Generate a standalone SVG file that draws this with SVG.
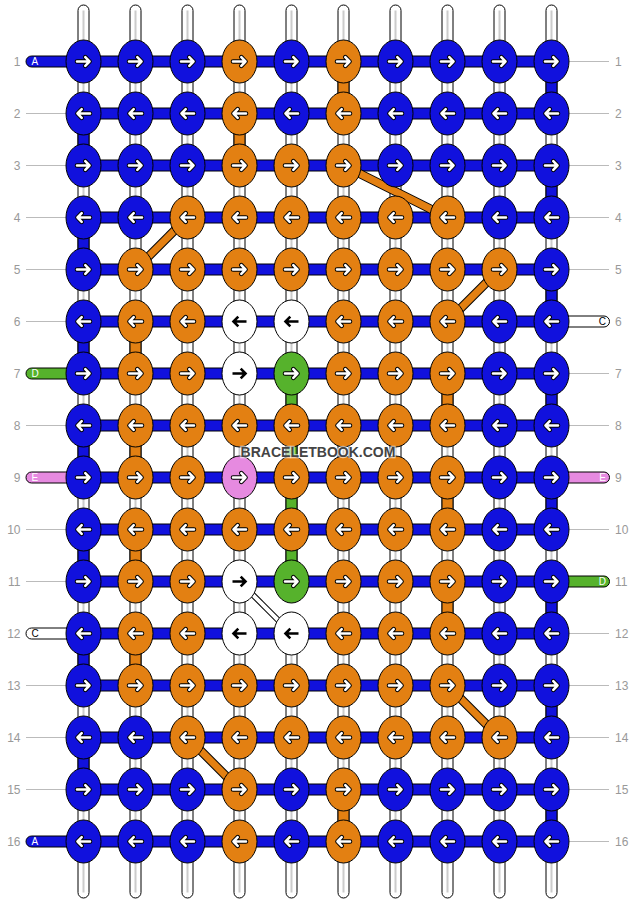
<svg xmlns="http://www.w3.org/2000/svg" xmlns:xlink="http://www.w3.org/1999/xlink" width="636" height="904" viewBox="0 0 636 904">
<style>
.b{fill:#1111dd}.o{fill:#e38012}.w{fill:#fff}.g{fill:#56b22c}.p{fill:#e68ae0}
ellipse{stroke:#000;stroke-width:1}
.gl{stroke:#bbb;stroke-width:1}
.num{font-family:"Liberation Sans",Arial,sans-serif;font-size:12px;fill:#999}
.lab{font-family:"Liberation Sans",Arial,sans-serif;font-size:10px}
.ao{fill:none;stroke:#000;stroke-width:4.6;stroke-linecap:round;stroke-linejoin:round}
.ai{fill:none;stroke:#fff;stroke-width:2.6;stroke-linecap:round;stroke-linejoin:round}
.ab{fill:none;stroke:#000;stroke-width:2.6;stroke-linejoin:miter}
.wm{font-family:"Liberation Sans",Arial,sans-serif;font-size:14px;font-weight:bold;fill:#444;stroke:#fff;stroke-opacity:0.6;stroke-width:2.5;paint-order:stroke}
</style>
<defs>
<g id="R"><path class="ao" d="M-6.5,0H6M1.8,-4.3L6,0L1.8,4.3"/><path class="ai" d="M-6.5,0H6M1.8,-4.3L6,0L1.8,4.3"/></g>
<g id="L"><path class="ao" d="M6.5,0H-6M-1.8,-4.3L-6,0L-1.8,4.3"/><path class="ai" d="M6.5,0H-6M-1.8,-4.3L-6,0L-1.8,4.3"/></g>
<path id="RB" class="ab" d="M-7,0H6M1.2,-4.8L6,0L1.2,4.8"/>
<path id="LB" class="ab" d="M7,0H-6M-1.2,-4.8L-6,0L-1.2,4.8"/>
<rect id="seg" x="-5.5" y="17" width="11" height="18" stroke="#000" stroke-width="1"/>
<g id="vt"><rect x="-5.5" y="-56.5" width="11" height="893" rx="5.5" fill="#fff" stroke="#000"/><line x1="0" y1="-51" x2="0" y2="831" stroke="#ccc" stroke-width="2"/></g>
<rect id="hb" class="b" x="0" y="-5.5" width="468" height="11" stroke="#000"/>
</defs>
<g transform="translate(83.5,61.5)">
<g id="guides">
<line class="gl" x1="-57.5" y1="52" x2="-17.5" y2="52"/><line class="gl" x1="-57.5" y1="104" x2="-17.5" y2="104"/><line class="gl" x1="-57.5" y1="156" x2="-17.5" y2="156"/><line class="gl" x1="-57.5" y1="208" x2="-17.5" y2="208"/><line class="gl" x1="-57.5" y1="260" x2="-17.5" y2="260"/><line class="gl" x1="-57.5" y1="364" x2="-17.5" y2="364"/><line class="gl" x1="-57.5" y1="468" x2="-17.5" y2="468"/><line class="gl" x1="-57.5" y1="520" x2="-17.5" y2="520"/><line class="gl" x1="-57.5" y1="624" x2="-17.5" y2="624"/><line class="gl" x1="-57.5" y1="676" x2="-17.5" y2="676"/><line class="gl" x1="-57.5" y1="728" x2="-17.5" y2="728"/>
<line class="gl" x1="485.5" y1="0" x2="525.5" y2="0"/><line class="gl" x1="485.5" y1="52" x2="525.5" y2="52"/><line class="gl" x1="485.5" y1="104" x2="525.5" y2="104"/><line class="gl" x1="485.5" y1="156" x2="525.5" y2="156"/><line class="gl" x1="485.5" y1="208" x2="525.5" y2="208"/><line class="gl" x1="485.5" y1="312" x2="525.5" y2="312"/><line class="gl" x1="485.5" y1="364" x2="525.5" y2="364"/><line class="gl" x1="485.5" y1="468" x2="525.5" y2="468"/><line class="gl" x1="485.5" y1="572" x2="525.5" y2="572"/><line class="gl" x1="485.5" y1="624" x2="525.5" y2="624"/><line class="gl" x1="485.5" y1="676" x2="525.5" y2="676"/><line class="gl" x1="485.5" y1="728" x2="525.5" y2="728"/><line class="gl" x1="485.5" y1="780" x2="525.5" y2="780"/>
</g>
<g id="connectors">
<use href="#vt" x="0"/><use href="#vt" x="52"/><use href="#vt" x="104"/><use href="#vt" x="156"/><use href="#vt" x="208"/><use href="#vt" x="260"/><use href="#vt" x="312"/><use href="#vt" x="364"/><use href="#vt" x="416"/><use href="#vt" x="468"/>
<use href="#seg" class="o" x="260" y="0"/><use href="#seg" class="b" x="468" y="0"/>
<use href="#seg" class="b" x="0" y="52"/><use href="#seg" class="o" x="156" y="52"/>
<use href="#seg" class="b" x="468" y="104"/>
<use href="#seg" class="b" x="0" y="156"/>
<use href="#seg" class="b" x="468" y="208"/>
<use href="#seg" class="b" x="0" y="260"/><use href="#seg" class="o" x="52" y="260"/>
<use href="#seg" class="g" x="208" y="312"/><use href="#seg" class="o" x="364" y="312"/><use href="#seg" class="b" x="468" y="312"/>
<use href="#seg" class="b" x="0" y="364"/><use href="#seg" class="o" x="52" y="364"/><use href="#seg" class="g" x="208" y="364"/>
<use href="#seg" class="g" x="208" y="416"/><use href="#seg" class="o" x="364" y="416"/><use href="#seg" class="b" x="468" y="416"/>
<use href="#seg" class="b" x="0" y="468"/><use href="#seg" class="o" x="52" y="468"/><use href="#seg" class="g" x="208" y="468"/>
<use href="#seg" class="o" x="364" y="520"/><use href="#seg" class="b" x="468" y="520"/><rect x="201.5" y="537" width="13" height="18" fill="#fff"/>
<use href="#seg" class="b" x="0" y="572"/><use href="#seg" class="o" x="52" y="572"/>
<use href="#seg" class="b" x="468" y="624"/>
<use href="#seg" class="b" x="0" y="676"/>
<use href="#seg" class="o" x="260" y="728"/><use href="#seg" class="b" x="468" y="728"/>
<rect class="b" x="-57.5" y="-5.5" width="70" height="11" rx="5.5" stroke="#000"/>
<rect class="b" x="-57.5" y="774.5" width="70" height="11" rx="5.5" stroke="#000"/>
<rect class="g" x="-57.5" y="306.5" width="70" height="11" rx="5.5" stroke="#000"/>
<rect class="p" x="-57.5" y="410.5" width="70" height="11" rx="5.5" stroke="#000"/>
<rect class="w" x="-57.5" y="566.5" width="70" height="11" rx="5.5" stroke="#000"/>
<rect class="w" x="456" y="254.5" width="70" height="11" rx="5.5" stroke="#000"/>
<rect class="p" x="456" y="410.5" width="70" height="11" rx="5.5" stroke="#000"/>
<rect class="g" x="456" y="514.5" width="70" height="11" rx="5.5" stroke="#000"/>
<use href="#hb" y="0"/><use href="#hb" y="52"/><use href="#hb" y="104"/><use href="#hb" y="156"/><use href="#hb" y="208"/><use href="#hb" y="260"/><use href="#hb" y="312"/><use href="#hb" y="364"/><use href="#hb" y="416"/><use href="#hb" y="468"/><use href="#hb" y="520"/><use href="#hb" y="572"/><use href="#hb" y="624"/><use href="#hb" y="676"/><use href="#hb" y="728"/><use href="#hb" y="780"/>
<g stroke-linecap="butt">
<line x1="260" y1="104" x2="364" y2="156" stroke="#000" stroke-width="9"/><line x1="260" y1="104" x2="364" y2="156" stroke="#e38012" stroke-width="7"/>
<line x1="104" y1="156" x2="52" y2="208" stroke="#000" stroke-width="9"/><line x1="104" y1="156" x2="52" y2="208" stroke="#e38012" stroke-width="7"/>
<line x1="416" y1="208" x2="364" y2="260" stroke="#000" stroke-width="9"/><line x1="416" y1="208" x2="364" y2="260" stroke="#e38012" stroke-width="7"/>
<line x1="364" y1="624" x2="416" y2="676" stroke="#000" stroke-width="9"/><line x1="364" y1="624" x2="416" y2="676" stroke="#e38012" stroke-width="7"/>
<line x1="104" y1="676" x2="156" y2="728" stroke="#000" stroke-width="9"/><line x1="104" y1="676" x2="156" y2="728" stroke="#e38012" stroke-width="7"/>
<line x1="156" y1="520" x2="208" y2="572" stroke="#000" stroke-width="6"/><line x1="156" y1="520" x2="208" y2="572" stroke="#fff" stroke-width="4"/>
</g>
</g>
<g id="knots">
<g id="k1-1" transform="translate(0,0)"><ellipse class="b" rx="17.5" ry="21.5"/><use href="#R"/></g>
<g id="k1-2" transform="translate(52,0)"><ellipse class="b" rx="17.5" ry="21.5"/><use href="#R"/></g>
<g id="k1-3" transform="translate(104,0)"><ellipse class="b" rx="17.5" ry="21.5"/><use href="#R"/></g>
<g id="k1-4" transform="translate(156,0)"><ellipse class="o" rx="17.5" ry="21.5"/><use href="#R"/></g>
<g id="k1-5" transform="translate(208,0)"><ellipse class="b" rx="17.5" ry="21.5"/><use href="#R"/></g>
<g id="k1-6" transform="translate(260,0)"><ellipse class="o" rx="17.5" ry="21.5"/><use href="#R"/></g>
<g id="k1-7" transform="translate(312,0)"><ellipse class="b" rx="17.5" ry="21.5"/><use href="#R"/></g>
<g id="k1-8" transform="translate(364,0)"><ellipse class="b" rx="17.5" ry="21.5"/><use href="#R"/></g>
<g id="k1-9" transform="translate(416,0)"><ellipse class="b" rx="17.5" ry="21.5"/><use href="#R"/></g>
<g id="k1-10" transform="translate(468,0)"><ellipse class="b" rx="17.5" ry="21.5"/><use href="#R"/></g>
<g id="k2-1" transform="translate(0,52)"><ellipse class="b" rx="17.5" ry="21.5"/><use href="#L"/></g>
<g id="k2-2" transform="translate(52,52)"><ellipse class="b" rx="17.5" ry="21.5"/><use href="#L"/></g>
<g id="k2-3" transform="translate(104,52)"><ellipse class="b" rx="17.5" ry="21.5"/><use href="#L"/></g>
<g id="k2-4" transform="translate(156,52)"><ellipse class="o" rx="17.5" ry="21.5"/><use href="#L"/></g>
<g id="k2-5" transform="translate(208,52)"><ellipse class="b" rx="17.5" ry="21.5"/><use href="#L"/></g>
<g id="k2-6" transform="translate(260,52)"><ellipse class="o" rx="17.5" ry="21.5"/><use href="#L"/></g>
<g id="k2-7" transform="translate(312,52)"><ellipse class="b" rx="17.5" ry="21.5"/><use href="#L"/></g>
<g id="k2-8" transform="translate(364,52)"><ellipse class="b" rx="17.5" ry="21.5"/><use href="#L"/></g>
<g id="k2-9" transform="translate(416,52)"><ellipse class="b" rx="17.5" ry="21.5"/><use href="#L"/></g>
<g id="k2-10" transform="translate(468,52)"><ellipse class="b" rx="17.5" ry="21.5"/><use href="#L"/></g>
<g id="k3-1" transform="translate(0,104)"><ellipse class="b" rx="17.5" ry="21.5"/><use href="#R"/></g>
<g id="k3-2" transform="translate(52,104)"><ellipse class="b" rx="17.5" ry="21.5"/><use href="#R"/></g>
<g id="k3-3" transform="translate(104,104)"><ellipse class="b" rx="17.5" ry="21.5"/><use href="#R"/></g>
<g id="k3-4" transform="translate(156,104)"><ellipse class="o" rx="17.5" ry="21.5"/><use href="#R"/></g>
<g id="k3-5" transform="translate(208,104)"><ellipse class="o" rx="17.5" ry="21.5"/><use href="#R"/></g>
<g id="k3-6" transform="translate(260,104)"><ellipse class="o" rx="17.5" ry="21.5"/><use href="#R"/></g>
<g id="k3-7" transform="translate(312,104)"><ellipse class="b" rx="17.5" ry="21.5"/><use href="#R"/></g>
<g id="k3-8" transform="translate(364,104)"><ellipse class="b" rx="17.5" ry="21.5"/><use href="#R"/></g>
<g id="k3-9" transform="translate(416,104)"><ellipse class="b" rx="17.5" ry="21.5"/><use href="#R"/></g>
<g id="k3-10" transform="translate(468,104)"><ellipse class="b" rx="17.5" ry="21.5"/><use href="#R"/></g>
<g id="k4-1" transform="translate(0,156)"><ellipse class="b" rx="17.5" ry="21.5"/><use href="#L"/></g>
<g id="k4-2" transform="translate(52,156)"><ellipse class="b" rx="17.5" ry="21.5"/><use href="#L"/></g>
<g id="k4-3" transform="translate(104,156)"><ellipse class="o" rx="17.5" ry="21.5"/><use href="#L"/></g>
<g id="k4-4" transform="translate(156,156)"><ellipse class="o" rx="17.5" ry="21.5"/><use href="#L"/></g>
<g id="k4-5" transform="translate(208,156)"><ellipse class="o" rx="17.5" ry="21.5"/><use href="#L"/></g>
<g id="k4-6" transform="translate(260,156)"><ellipse class="o" rx="17.5" ry="21.5"/><use href="#L"/></g>
<g id="k4-7" transform="translate(312,156)"><ellipse class="o" rx="17.5" ry="21.5"/><use href="#L"/></g>
<g id="k4-8" transform="translate(364,156)"><ellipse class="o" rx="17.5" ry="21.5"/><use href="#L"/></g>
<g id="k4-9" transform="translate(416,156)"><ellipse class="b" rx="17.5" ry="21.5"/><use href="#L"/></g>
<g id="k4-10" transform="translate(468,156)"><ellipse class="b" rx="17.5" ry="21.5"/><use href="#L"/></g>
<g id="k5-1" transform="translate(0,208)"><ellipse class="b" rx="17.5" ry="21.5"/><use href="#R"/></g>
<g id="k5-2" transform="translate(52,208)"><ellipse class="o" rx="17.5" ry="21.5"/><use href="#R"/></g>
<g id="k5-3" transform="translate(104,208)"><ellipse class="o" rx="17.5" ry="21.5"/><use href="#R"/></g>
<g id="k5-4" transform="translate(156,208)"><ellipse class="o" rx="17.5" ry="21.5"/><use href="#R"/></g>
<g id="k5-5" transform="translate(208,208)"><ellipse class="o" rx="17.5" ry="21.5"/><use href="#R"/></g>
<g id="k5-6" transform="translate(260,208)"><ellipse class="o" rx="17.5" ry="21.5"/><use href="#R"/></g>
<g id="k5-7" transform="translate(312,208)"><ellipse class="o" rx="17.5" ry="21.5"/><use href="#R"/></g>
<g id="k5-8" transform="translate(364,208)"><ellipse class="o" rx="17.5" ry="21.5"/><use href="#R"/></g>
<g id="k5-9" transform="translate(416,208)"><ellipse class="o" rx="17.5" ry="21.5"/><use href="#R"/></g>
<g id="k5-10" transform="translate(468,208)"><ellipse class="b" rx="17.5" ry="21.5"/><use href="#R"/></g>
<g id="k6-1" transform="translate(0,260)"><ellipse class="b" rx="17.5" ry="21.5"/><use href="#L"/></g>
<g id="k6-2" transform="translate(52,260)"><ellipse class="o" rx="17.5" ry="21.5"/><use href="#L"/></g>
<g id="k6-3" transform="translate(104,260)"><ellipse class="o" rx="17.5" ry="21.5"/><use href="#L"/></g>
<g id="k6-4" transform="translate(156,260)"><ellipse class="w" rx="17.5" ry="21.5"/><use href="#LB"/></g>
<g id="k6-5" transform="translate(208,260)"><ellipse class="w" rx="17.5" ry="21.5"/><use href="#LB"/></g>
<g id="k6-6" transform="translate(260,260)"><ellipse class="o" rx="17.5" ry="21.5"/><use href="#L"/></g>
<g id="k6-7" transform="translate(312,260)"><ellipse class="o" rx="17.5" ry="21.5"/><use href="#L"/></g>
<g id="k6-8" transform="translate(364,260)"><ellipse class="o" rx="17.5" ry="21.5"/><use href="#L"/></g>
<g id="k6-9" transform="translate(416,260)"><ellipse class="b" rx="17.5" ry="21.5"/><use href="#L"/></g>
<g id="k6-10" transform="translate(468,260)"><ellipse class="b" rx="17.5" ry="21.5"/><use href="#L"/></g>
<g id="k7-1" transform="translate(0,312)"><ellipse class="b" rx="17.5" ry="21.5"/><use href="#R"/></g>
<g id="k7-2" transform="translate(52,312)"><ellipse class="o" rx="17.5" ry="21.5"/><use href="#R"/></g>
<g id="k7-3" transform="translate(104,312)"><ellipse class="o" rx="17.5" ry="21.5"/><use href="#R"/></g>
<g id="k7-4" transform="translate(156,312)"><ellipse class="w" rx="17.5" ry="21.5"/><use href="#RB"/></g>
<g id="k7-5" transform="translate(208,312)"><ellipse class="g" rx="17.5" ry="21.5"/><use href="#R"/></g>
<g id="k7-6" transform="translate(260,312)"><ellipse class="o" rx="17.5" ry="21.5"/><use href="#R"/></g>
<g id="k7-7" transform="translate(312,312)"><ellipse class="o" rx="17.5" ry="21.5"/><use href="#R"/></g>
<g id="k7-8" transform="translate(364,312)"><ellipse class="o" rx="17.5" ry="21.5"/><use href="#R"/></g>
<g id="k7-9" transform="translate(416,312)"><ellipse class="b" rx="17.5" ry="21.5"/><use href="#R"/></g>
<g id="k7-10" transform="translate(468,312)"><ellipse class="b" rx="17.5" ry="21.5"/><use href="#R"/></g>
<g id="k8-1" transform="translate(0,364)"><ellipse class="b" rx="17.5" ry="21.5"/><use href="#L"/></g>
<g id="k8-2" transform="translate(52,364)"><ellipse class="o" rx="17.5" ry="21.5"/><use href="#L"/></g>
<g id="k8-3" transform="translate(104,364)"><ellipse class="o" rx="17.5" ry="21.5"/><use href="#L"/></g>
<g id="k8-4" transform="translate(156,364)"><ellipse class="o" rx="17.5" ry="21.5"/><use href="#L"/></g>
<g id="k8-5" transform="translate(208,364)"><ellipse class="o" rx="17.5" ry="21.5"/><use href="#L"/></g>
<g id="k8-6" transform="translate(260,364)"><ellipse class="o" rx="17.5" ry="21.5"/><use href="#L"/></g>
<g id="k8-7" transform="translate(312,364)"><ellipse class="o" rx="17.5" ry="21.5"/><use href="#L"/></g>
<g id="k8-8" transform="translate(364,364)"><ellipse class="o" rx="17.5" ry="21.5"/><use href="#L"/></g>
<g id="k8-9" transform="translate(416,364)"><ellipse class="b" rx="17.5" ry="21.5"/><use href="#L"/></g>
<g id="k8-10" transform="translate(468,364)"><ellipse class="b" rx="17.5" ry="21.5"/><use href="#L"/></g>
<g id="k9-1" transform="translate(0,416)"><ellipse class="b" rx="17.5" ry="21.5"/><use href="#R"/></g>
<g id="k9-2" transform="translate(52,416)"><ellipse class="o" rx="17.5" ry="21.5"/><use href="#R"/></g>
<g id="k9-3" transform="translate(104,416)"><ellipse class="o" rx="17.5" ry="21.5"/><use href="#R"/></g>
<g id="k9-4" transform="translate(156,416)"><ellipse class="p" rx="17.5" ry="21.5"/><use href="#R"/></g>
<g id="k9-5" transform="translate(208,416)"><ellipse class="o" rx="17.5" ry="21.5"/><use href="#R"/></g>
<g id="k9-6" transform="translate(260,416)"><ellipse class="o" rx="17.5" ry="21.5"/><use href="#R"/></g>
<g id="k9-7" transform="translate(312,416)"><ellipse class="o" rx="17.5" ry="21.5"/><use href="#R"/></g>
<g id="k9-8" transform="translate(364,416)"><ellipse class="o" rx="17.5" ry="21.5"/><use href="#R"/></g>
<g id="k9-9" transform="translate(416,416)"><ellipse class="b" rx="17.5" ry="21.5"/><use href="#R"/></g>
<g id="k9-10" transform="translate(468,416)"><ellipse class="b" rx="17.5" ry="21.5"/><use href="#R"/></g>
<g id="k10-1" transform="translate(0,468)"><ellipse class="b" rx="17.5" ry="21.5"/><use href="#L"/></g>
<g id="k10-2" transform="translate(52,468)"><ellipse class="o" rx="17.5" ry="21.5"/><use href="#L"/></g>
<g id="k10-3" transform="translate(104,468)"><ellipse class="o" rx="17.5" ry="21.5"/><use href="#L"/></g>
<g id="k10-4" transform="translate(156,468)"><ellipse class="o" rx="17.5" ry="21.5"/><use href="#L"/></g>
<g id="k10-5" transform="translate(208,468)"><ellipse class="o" rx="17.5" ry="21.5"/><use href="#L"/></g>
<g id="k10-6" transform="translate(260,468)"><ellipse class="o" rx="17.5" ry="21.5"/><use href="#L"/></g>
<g id="k10-7" transform="translate(312,468)"><ellipse class="o" rx="17.5" ry="21.5"/><use href="#L"/></g>
<g id="k10-8" transform="translate(364,468)"><ellipse class="o" rx="17.5" ry="21.5"/><use href="#L"/></g>
<g id="k10-9" transform="translate(416,468)"><ellipse class="b" rx="17.5" ry="21.5"/><use href="#L"/></g>
<g id="k10-10" transform="translate(468,468)"><ellipse class="b" rx="17.5" ry="21.5"/><use href="#L"/></g>
<g id="k11-1" transform="translate(0,520)"><ellipse class="b" rx="17.5" ry="21.5"/><use href="#R"/></g>
<g id="k11-2" transform="translate(52,520)"><ellipse class="o" rx="17.5" ry="21.5"/><use href="#R"/></g>
<g id="k11-3" transform="translate(104,520)"><ellipse class="o" rx="17.5" ry="21.5"/><use href="#R"/></g>
<g id="k11-4" transform="translate(156,520)"><ellipse class="w" rx="17.5" ry="21.5"/><use href="#RB"/></g>
<g id="k11-5" transform="translate(208,520)"><ellipse class="g" rx="17.5" ry="21.5"/><use href="#R"/></g>
<g id="k11-6" transform="translate(260,520)"><ellipse class="o" rx="17.5" ry="21.5"/><use href="#R"/></g>
<g id="k11-7" transform="translate(312,520)"><ellipse class="o" rx="17.5" ry="21.5"/><use href="#R"/></g>
<g id="k11-8" transform="translate(364,520)"><ellipse class="o" rx="17.5" ry="21.5"/><use href="#R"/></g>
<g id="k11-9" transform="translate(416,520)"><ellipse class="b" rx="17.5" ry="21.5"/><use href="#R"/></g>
<g id="k11-10" transform="translate(468,520)"><ellipse class="b" rx="17.5" ry="21.5"/><use href="#R"/></g>
<g id="k12-1" transform="translate(0,572)"><ellipse class="b" rx="17.5" ry="21.5"/><use href="#L"/></g>
<g id="k12-2" transform="translate(52,572)"><ellipse class="o" rx="17.5" ry="21.5"/><use href="#L"/></g>
<g id="k12-3" transform="translate(104,572)"><ellipse class="o" rx="17.5" ry="21.5"/><use href="#L"/></g>
<g id="k12-4" transform="translate(156,572)"><ellipse class="w" rx="17.5" ry="21.5"/><use href="#LB"/></g>
<g id="k12-5" transform="translate(208,572)"><ellipse class="w" rx="17.5" ry="21.5"/><use href="#LB"/></g>
<g id="k12-6" transform="translate(260,572)"><ellipse class="o" rx="17.5" ry="21.5"/><use href="#L"/></g>
<g id="k12-7" transform="translate(312,572)"><ellipse class="o" rx="17.5" ry="21.5"/><use href="#L"/></g>
<g id="k12-8" transform="translate(364,572)"><ellipse class="o" rx="17.5" ry="21.5"/><use href="#L"/></g>
<g id="k12-9" transform="translate(416,572)"><ellipse class="b" rx="17.5" ry="21.5"/><use href="#L"/></g>
<g id="k12-10" transform="translate(468,572)"><ellipse class="b" rx="17.5" ry="21.5"/><use href="#L"/></g>
<g id="k13-1" transform="translate(0,624)"><ellipse class="b" rx="17.5" ry="21.5"/><use href="#R"/></g>
<g id="k13-2" transform="translate(52,624)"><ellipse class="o" rx="17.5" ry="21.5"/><use href="#R"/></g>
<g id="k13-3" transform="translate(104,624)"><ellipse class="o" rx="17.5" ry="21.5"/><use href="#R"/></g>
<g id="k13-4" transform="translate(156,624)"><ellipse class="o" rx="17.5" ry="21.5"/><use href="#R"/></g>
<g id="k13-5" transform="translate(208,624)"><ellipse class="o" rx="17.5" ry="21.5"/><use href="#R"/></g>
<g id="k13-6" transform="translate(260,624)"><ellipse class="o" rx="17.5" ry="21.5"/><use href="#R"/></g>
<g id="k13-7" transform="translate(312,624)"><ellipse class="o" rx="17.5" ry="21.5"/><use href="#R"/></g>
<g id="k13-8" transform="translate(364,624)"><ellipse class="o" rx="17.5" ry="21.5"/><use href="#R"/></g>
<g id="k13-9" transform="translate(416,624)"><ellipse class="b" rx="17.5" ry="21.5"/><use href="#R"/></g>
<g id="k13-10" transform="translate(468,624)"><ellipse class="b" rx="17.5" ry="21.5"/><use href="#R"/></g>
<g id="k14-1" transform="translate(0,676)"><ellipse class="b" rx="17.5" ry="21.5"/><use href="#L"/></g>
<g id="k14-2" transform="translate(52,676)"><ellipse class="b" rx="17.5" ry="21.5"/><use href="#L"/></g>
<g id="k14-3" transform="translate(104,676)"><ellipse class="o" rx="17.5" ry="21.5"/><use href="#L"/></g>
<g id="k14-4" transform="translate(156,676)"><ellipse class="o" rx="17.5" ry="21.5"/><use href="#L"/></g>
<g id="k14-5" transform="translate(208,676)"><ellipse class="o" rx="17.5" ry="21.5"/><use href="#L"/></g>
<g id="k14-6" transform="translate(260,676)"><ellipse class="o" rx="17.5" ry="21.5"/><use href="#L"/></g>
<g id="k14-7" transform="translate(312,676)"><ellipse class="o" rx="17.5" ry="21.5"/><use href="#L"/></g>
<g id="k14-8" transform="translate(364,676)"><ellipse class="o" rx="17.5" ry="21.5"/><use href="#L"/></g>
<g id="k14-9" transform="translate(416,676)"><ellipse class="o" rx="17.5" ry="21.5"/><use href="#L"/></g>
<g id="k14-10" transform="translate(468,676)"><ellipse class="b" rx="17.5" ry="21.5"/><use href="#L"/></g>
<g id="k15-1" transform="translate(0,728)"><ellipse class="b" rx="17.5" ry="21.5"/><use href="#R"/></g>
<g id="k15-2" transform="translate(52,728)"><ellipse class="b" rx="17.5" ry="21.5"/><use href="#R"/></g>
<g id="k15-3" transform="translate(104,728)"><ellipse class="b" rx="17.5" ry="21.5"/><use href="#R"/></g>
<g id="k15-4" transform="translate(156,728)"><ellipse class="o" rx="17.5" ry="21.5"/><use href="#R"/></g>
<g id="k15-5" transform="translate(208,728)"><ellipse class="b" rx="17.5" ry="21.5"/><use href="#R"/></g>
<g id="k15-6" transform="translate(260,728)"><ellipse class="o" rx="17.5" ry="21.5"/><use href="#R"/></g>
<g id="k15-7" transform="translate(312,728)"><ellipse class="b" rx="17.5" ry="21.5"/><use href="#R"/></g>
<g id="k15-8" transform="translate(364,728)"><ellipse class="b" rx="17.5" ry="21.5"/><use href="#R"/></g>
<g id="k15-9" transform="translate(416,728)"><ellipse class="b" rx="17.5" ry="21.5"/><use href="#R"/></g>
<g id="k15-10" transform="translate(468,728)"><ellipse class="b" rx="17.5" ry="21.5"/><use href="#R"/></g>
<g id="k16-1" transform="translate(0,780)"><ellipse class="b" rx="17.5" ry="21.5"/><use href="#L"/></g>
<g id="k16-2" transform="translate(52,780)"><ellipse class="b" rx="17.5" ry="21.5"/><use href="#L"/></g>
<g id="k16-3" transform="translate(104,780)"><ellipse class="b" rx="17.5" ry="21.5"/><use href="#L"/></g>
<g id="k16-4" transform="translate(156,780)"><ellipse class="o" rx="17.5" ry="21.5"/><use href="#L"/></g>
<g id="k16-5" transform="translate(208,780)"><ellipse class="b" rx="17.5" ry="21.5"/><use href="#L"/></g>
<g id="k16-6" transform="translate(260,780)"><ellipse class="o" rx="17.5" ry="21.5"/><use href="#L"/></g>
<g id="k16-7" transform="translate(312,780)"><ellipse class="b" rx="17.5" ry="21.5"/><use href="#L"/></g>
<g id="k16-8" transform="translate(364,780)"><ellipse class="b" rx="17.5" ry="21.5"/><use href="#L"/></g>
<g id="k16-9" transform="translate(416,780)"><ellipse class="b" rx="17.5" ry="21.5"/><use href="#L"/></g>
<g id="k16-10" transform="translate(468,780)"><ellipse class="b" rx="17.5" ry="21.5"/><use href="#L"/></g>
</g>
<g id="labels">
<text class="lab" x="-52" y="3.5" fill="#fff">A</text>
<text class="lab" x="-52" y="783.5" fill="#fff">A</text>
<text class="lab" x="-52" y="315.5" fill="#fff">D</text>
<text class="lab" x="-52" y="419.5" fill="#fff">E</text>
<text class="lab" x="-52" y="575.5" fill="#000">C</text>
<text class="lab" x="522.5" y="263.5" fill="#000" text-anchor="end">C</text>
<text class="lab" x="522.5" y="419.5" fill="#fff" text-anchor="end">E</text>
<text class="lab" x="522.5" y="523.5" fill="#fff" text-anchor="end">D</text>
</g>
<g id="rownums" class="num">
<text x="-63" y="4.5" text-anchor="end">1</text><text x="-63" y="56.5" text-anchor="end">2</text><text x="-63" y="108.5" text-anchor="end">3</text><text x="-63" y="160.5" text-anchor="end">4</text><text x="-63" y="212.5" text-anchor="end">5</text><text x="-63" y="264.5" text-anchor="end">6</text><text x="-63" y="316.5" text-anchor="end">7</text><text x="-63" y="368.5" text-anchor="end">8</text><text x="-63" y="420.5" text-anchor="end">9</text><text x="-63" y="472.5" text-anchor="end">10</text><text x="-63" y="524.5" text-anchor="end">11</text><text x="-63" y="576.5" text-anchor="end">12</text><text x="-63" y="628.5" text-anchor="end">13</text><text x="-63" y="680.5" text-anchor="end">14</text><text x="-63" y="732.5" text-anchor="end">15</text><text x="-63" y="784.5" text-anchor="end">16</text>
<text x="531.5" y="4.5">1</text><text x="531.5" y="56.5">2</text><text x="531.5" y="108.5">3</text><text x="531.5" y="160.5">4</text><text x="531.5" y="212.5">5</text><text x="531.5" y="264.5">6</text><text x="531.5" y="316.5">7</text><text x="531.5" y="368.5">8</text><text x="531.5" y="420.5">9</text><text x="531.5" y="472.5">10</text><text x="531.5" y="524.5">11</text><text x="531.5" y="576.5">12</text><text x="531.5" y="628.5">13</text><text x="531.5" y="680.5">14</text><text x="531.5" y="732.5">15</text><text x="531.5" y="784.5">16</text>
</g>
<text class="wm" x="234.5" y="395.5" text-anchor="middle">BRACELETBOOK.COM</text>
</g>
</svg>
